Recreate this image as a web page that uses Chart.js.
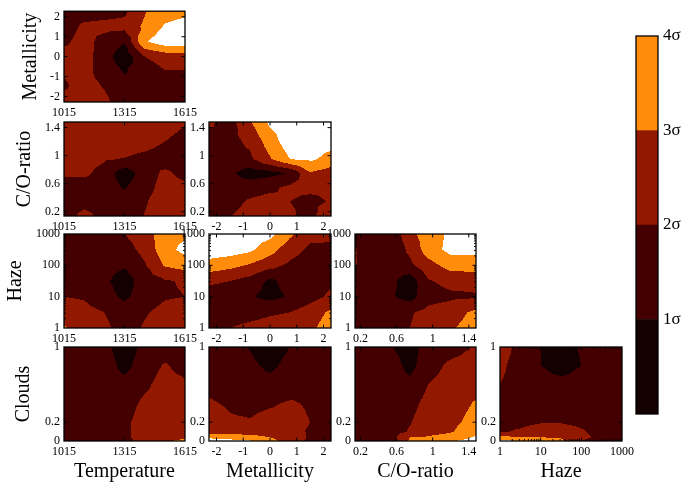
<!DOCTYPE html>
<html><head><meta charset="utf-8">
<script src="https://cdn.jsdelivr.net/npm/chart.js@4.4.1/dist/chart.umd.min.js"></script>
<style>
html,body{margin:0;padding:0;background:#fff;}
#wrap{position:relative;width:692px;height:493px;overflow:hidden;background:#fff;}
#wrap canvas{position:absolute;left:0;top:0;}
</style></head><body><div id="wrap"></div>
<script>
// ---------------- DATA ----------------
const paramNames = ['Temperature', 'Metallicity', 'C/O-ratio', 'Haze', 'Clouds'];

// grid node positions (ascending) for each parameter
const tempNodes  = [1015, 1115, 1215, 1315, 1415, 1515, 1615];
const metNodes   = [-2.3, -1.5, -0.75, 0, 0.75, 1.5, 2.3];
const coNodes    = [0.12, 0.35, 0.55, 0.75, 0.95, 1.2, 1.48];
const hazeNodes  = [1, 3.16, 10, 31.6, 100, 316, 1000];
const cloudNodes = [0, 0.04, 0.1, 0.2, 0.4, 0.6, 0.8, 1];

// tick values and labels
const tempTicks = [1015, 1315, 1615];       const tempTickLabels = ['1015', '1315', '1615'];
const metTicks = [-2, -1, 0, 1, 2];         const metTickLabels = ['-2', '-1', '0', '1', '2'];
const coTicks = [0.2, 0.6, 1, 1.4];         const coTickLabels = ['0.2', '0.6', '1', '1.4'];
const hazeTicks = [1, 10, 100, 1000];       const hazeTickLabels = ['1', '10', '100', '1000'];
const cloudTicks = [0, 0.2, 1];             const cloudTickLabels = ['0', '0.2', '1'];

// colour bar levels
const sigmaLevels = [0, 1, 2, 3, 4];
const sigmaLabels = ['', '1σ', '2σ', '3σ', '4σ'];

// significance (sigma) grids; rows go from the top of the panel (max y) to the bottom
const sigTempMet = [
  [1.5, 1.5, 1.6, 1.8, 2.9, 3.6, 3.7],
  [1.5, 2.2, 2.3, 2.3, 3.2, 4.1, 4.4],
  [1.8, 2.4, 1.6, 1.05, 3.9, 4.6, 4.6],
  [2.4, 2.4, 1.5, 0.3, 2.0, 2.4, 2.5],
  [2.05, 2.3, 1.6, 0.9, 1.5, 1.95, 1.95],
  [1.9, 2.3, 1.95, 1.5, 1.5, 1.6, 1.7],
  [2.3, 2.3, 2.2, 1.5, 1.5, 1.6, 1.7]
];
const sigTempCO = [
  [2.5, 2.5, 2.5, 2.5, 2.5, 2.5, 2.1],
  [2.5, 2.5, 2.5, 2.5, 2.4, 2.0, 1.6],
  [2.5, 2.5, 2.1, 1.95, 1.7, 1.5, 1.5],
  [2.2, 2.2, 1.6, 0.4, 1.5, 2.2, 1.7],
  [1.5, 1.5, 1.5, 0.9, 1.6, 2.4, 2.2],
  [1.5, 1.7, 1.5, 1.5, 1.9, 2.5, 2.5],
  [1.6, 2.3, 1.8, 1.5, 2.05, 2.5, 2.5]
];
const sigMetCO = [
  [2.2, 1.6, 2.9, 4.2, 4.6, 4.6, 4.3],
  [1.6, 1.7, 2.2, 3.5, 4.6, 4.6, 4.4],
  [1.5, 1.6, 1.8, 2.9, 4.0, 4.2, 3.6],
  [1.5, 1.2, 0.5, 0.7, 1.05, 2.9, 2.5],
  [1.4, 1.5, 1.6, 1.8, 2.2, 2.3, 2.2],
  [1.5, 1.7, 2.1, 2.3, 2.0, 1.7, 2.1],
  [1.6, 2.0, 2.3, 2.4, 2.2, 1.7, 3.0]
];
const sigTempHaze = [
  [1.5, 1.5, 1.6, 2.0, 2.5, 3.6, 3.8],
  [1.5, 1.5, 1.5, 1.6, 2.3, 3.6, 4.3],
  [1.5, 1.4, 1.3, 1.1, 1.9, 3.1, 3.4],
  [1.5, 1.4, 1.2, 0.5, 1.5, 1.9, 2.1],
  [2.0, 1.9, 1.4, 0.8, 1.5, 1.9, 2.0],
  [2.5, 2.3, 2.0, 1.5, 1.9, 2.3, 2.5],
  [3.1, 2.5, 2.2, 1.6, 2.1, 2.5, 2.6]
];
const sigMetHaze = [
  [4.6, 4.6, 4.5, 4.3, 3.2, 2.3, 2.2],
  [4.6, 4.5, 4.2, 3.4, 2.4, 1.8, 1.8],
  [3.6, 3.3, 2.9, 2.3, 1.8, 1.5, 1.7],
  [2.2, 2.0, 1.6, 0.8, 1.4, 1.6, 1.8],
  [1.5, 1.4, 1.1, 0.7, 1.1, 1.6, 2.2],
  [1.6, 1.6, 1.7, 1.9, 2.0, 2.5, 3.2],
  [1.7, 2.0, 2.2, 2.3, 2.4, 2.8, 3.5]
];
const sigCOHaze = [
  [1.5, 1.5, 1.3, 2.7, 3.5, 4.2, 4.1],
  [2.1, 1.5, 1.4, 2.2, 3.5, 4.3, 4.3],
  [2.1, 1.5, 1.4, 1.8, 2.6, 3.4, 3.5],
  [1.6, 1.5, 1.2, 0.4, 1.9, 2.3, 2.3],
  [1.5, 1.4, 1.1, 0.6, 1.6, 1.8, 1.9],
  [1.5, 1.5, 1.6, 1.9, 2.3, 2.6, 3.2],
  [1.5, 1.5, 1.7, 2.0, 2.5, 2.9, 3.4]
];
const sigTempClouds = [
  [1.5, 1.5, 1.25, 0.5, 1.25, 1.5, 1.5],
  [1.5, 1.5, 1.5, 0.7, 1.5, 2.1, 1.6],
  [1.5, 1.5, 1.5, 1.3, 1.8, 2.4, 2.2],
  [1.5, 1.5, 1.5, 1.6, 2.2, 2.5, 2.4],
  [1.5, 1.5, 1.5, 1.8, 2.4, 2.5, 2.5],
  [1.5, 1.5, 1.5, 1.8, 2.4, 2.5, 2.5],
  [1.5, 1.5, 1.5, 1.8, 2.4, 2.6, 2.9],
  [1.5, 1.5, 1.5, 1.7, 2.4, 2.9, 3.2]
];
const sigMetClouds = [
  [1.5, 1.4, 0.95, 0.5, 1.0, 1.5, 1.6],
  [1.6, 1.5, 1.2, 0.8, 1.3, 1.5, 1.6],
  [1.8, 1.6, 1.5, 1.3, 1.5, 1.7, 1.5],
  [2.1, 1.9, 1.8, 1.9, 2.1, 1.9, 1.5],
  [2.4, 2.1, 2.05, 2.3, 2.3, 2.0, 1.5],
  [2.6, 2.5, 2.5, 2.4, 2.3, 1.9, 1.5],
  [3.8, 3.6, 3.4, 3.0, 2.4, 1.9, 1.5],
  [4.5, 4.3, 4.1, 3.4, 2.5, 1.8, 1.5]
];
const sigCOClouds = [
  [1.5, 1.5, 1.05, 0.5, 1.5, 1.6, 2.1],
  [1.5, 1.5, 1.4, 0.7, 1.6, 2.2, 2.4],
  [1.5, 1.5, 1.5, 1.25, 2.0, 2.4, 2.5],
  [1.5, 1.5, 1.5, 1.7, 2.3, 2.5, 3.1],
  [1.5, 1.5, 1.5, 1.95, 2.5, 2.7, 3.4],
  [1.5, 1.5, 1.6, 2.1, 2.6, 2.9, 3.8],
  [1.5, 1.5, 1.7, 3.0, 3.1, 3.4, 4.1],
  [1.5, 1.5, 1.7, 3.2, 3.4, 3.9, 4.4]
];
const sigHazeClouds = [
  [2.4, 1.75, 1.0, 0.5, 1.1, 1.5, 1.5],
  [2.2, 1.6, 1.0, 0.6, 1.0, 1.5, 1.5],
  [2.0, 1.6, 1.4, 1.3, 1.4, 1.5, 1.5],
  [1.8, 1.6, 1.6, 1.6, 1.6, 1.5, 1.5],
  [1.8, 1.8, 1.95, 1.95, 1.8, 1.6, 1.5],
  [1.9, 2.1, 2.4, 2.4, 2.1, 1.7, 1.5],
  [3.2, 3.1, 3.0, 2.9, 2.2, 1.8, 1.6],
  [4.3, 4.0, 3.5, 3.2, 2.0, 1.6, 1.6]
];

// ---------------- STYLE / LAYOUT ----------------
const FONT = 'Liberation Serif';
const LEVEL_COLORS = ['#140000', '#440000', '#921800', '#ff8c0a', '#ffffff'];
const W = 692, H = 493;
const COLS = [{l: 64, r: 185}, {l: 209, r: 331}, {l: 355, r: 476}, {l: 500, r: 622}];
const ROWS = [{t: 9, b: 102}, {t: 122, b: 216}, {t: 234, b: 328}, {t: 347, b: 441}];
const Y_TITLE_X = [31, 25, 16, 24];

const AXES = {
  temp:   {name: paramNames[0], type: 'linear', min: 1015, max: 1615, nodes: tempNodes, ticks: tempTicks, labels: tempTickLabels},
  met:    {name: paramNames[1], type: 'linear', min: -2.28, max: 2.28, nodes: metNodes, ticks: metTicks, labels: metTickLabels},
  co:     {name: paramNames[2], type: 'linear', min: 0.14, max: 1.48, nodes: coNodes, ticks: coTicks, labels: coTickLabels},
  haze:   {name: paramNames[3], type: 'logarithmic', min: 1, max: 1000, nodes: hazeNodes, ticks: hazeTicks, labels: hazeTickLabels},
  clouds: {name: paramNames[4], type: 'linear', min: 0, max: 1, nodes: cloudNodes, ticks: cloudTicks, labels: cloudTickLabels}
};

const PANELS = [
  {x: 'temp', y: 'met', row: 0, col: 0, grid: sigTempMet},
  {x: 'temp', y: 'co', row: 1, col: 0, grid: sigTempCO},
  {x: 'met', y: 'co', row: 1, col: 1, grid: sigMetCO},
  {x: 'temp', y: 'haze', row: 2, col: 0, grid: sigTempHaze},
  {x: 'met', y: 'haze', row: 2, col: 1, grid: sigMetHaze},
  {x: 'co', y: 'haze', row: 2, col: 2, grid: sigCOHaze},
  {x: 'temp', y: 'clouds', row: 3, col: 0, grid: sigTempClouds},
  {x: 'met', y: 'clouds', row: 3, col: 1, grid: sigMetClouds},
  {x: 'co', y: 'clouds', row: 3, col: 2, grid: sigCOClouds},
  {x: 'haze', y: 'clouds', row: 3, col: 3, grid: sigHazeClouds}
];

// ---------------- HELPERS ----------------
function hexToRgb(h) { return [parseInt(h.slice(1,3),16), parseInt(h.slice(3,5),16), parseInt(h.slice(5,7),16)]; }
const LEVEL_RGB = LEVEL_COLORS.map(hexToRgb);

function locate(nodes, v) {
  const n = nodes.length;
  if (v <= nodes[0]) return [0, 0];
  if (v >= nodes[n-1]) return [n-2, 1];
  let i = 0;
  while (i < n - 2 && v > nodes[i+1]) i++;
  return [i, (v - nodes[i]) / (nodes[i+1] - nodes[i])];
}
function interp(g00, g10, g01, g11, u, v) {
  const c = (g00 + g10 + g01 + g11) / 4;
  if (v <= u && u + v <= 1) return (1-u-v)*g00 + (u-v)*g10 + 2*v*c;
  if (v <= u) return (u-v)*g10 + (u+v-1)*g11 + 2*(1-u)*c;
  if (u + v >= 1) return (u+v-1)*g11 + (v-u)*g01 + 2*(1-v)*c;
  return (v-u)*g01 + (1-u-v)*g00 + 2*u*c;
}
function levelIndex(s) { return s < 1 ? 0 : s < 2 ? 1 : s < 3 ? 2 : s < 4 ? 3 : 4; }

function labelFor(ax) {
  return function(value) {
    for (let i = 0; i < ax.ticks.length; i++) {
      if (Math.abs(ax.ticks[i] - value) < 1e-6 * Math.max(1, Math.abs(value))) return ax.labels[i];
    }
    return '';
  };
}

function minorValues(ax) {
  if (ax.type !== 'logarithmic') return [];
  const out = [];
  for (let k = 0; k < 3; k++) for (let m = 2; m <= 9; m++) out.push(m * Math.pow(10, k));
  return out;
}

function contourPlugin(panel, xa, ya) {
  return {
    id: 'contourFill',
    beforeDatasetsDraw(chart) {
      const xs = chart.scales.x, ys = chart.scales.y, a = chart.chartArea, ctx = chart.ctx;
      const dpr = chart.currentDevicePixelRatio || 1;
      const X0 = Math.round(a.left * dpr), Y0 = Math.round(a.top * dpr);
      const w = Math.round(a.right * dpr) - X0, h = Math.round(a.bottom * dpr) - Y0;
      const fx = xa.type === 'logarithmic' ? Math.log10 : (v) => v;
      const fy = ya.type === 'logarithmic' ? Math.log10 : (v) => v;
      const xn = xa.nodes.map(fx), yn = ya.nodes.map(fy);
      const G = panel.grid.slice().reverse(); // bottom-to-top rows, matching ascending y nodes
      const cx = [], cy = [];
      for (let i = 0; i < w; i++) cx.push(locate(xn, fx(xs.getValueForPixel((X0 + i + 0.5) / dpr))));
      for (let j = 0; j < h; j++) cy.push(locate(yn, fy(ys.getValueForPixel((Y0 + j + 0.5) / dpr))));
      const img = ctx.createImageData(w, h);
      const d = img.data;
      for (let j = 0; j < h; j++) {
        const [jy, v] = cy[j];
        const r0 = G[jy], r1 = G[jy + 1];
        for (let i = 0; i < w; i++) {
          const [ix, u] = cx[i];
          const s = interp(r0[ix], r0[ix+1], r1[ix], r1[ix+1], u, v);
          const c = LEVEL_RGB[levelIndex(s)];
          const k = (j * w + i) * 4;
          d[k] = c[0]; d[k+1] = c[1]; d[k+2] = c[2]; d[k+3] = 255;
        }
      }
      ctx.putImageData(img, X0, Y0);
    },
    afterDraw(chart) {
      const xs = chart.scales.x, ys = chart.scales.y, a = chart.chartArea, ctx = chart.ctx;
      ctx.save();
      ctx.strokeStyle = '#000';
      ctx.lineWidth = 1;
      ctx.beginPath();
      const tick = (vals, len, isX) => {
        vals.forEach((val) => {
          if (isX) {
            const p = xs.getPixelForValue(val);
            if (p < a.left + 1 || p > a.right - 1) return;
            ctx.moveTo(p, a.bottom); ctx.lineTo(p, a.bottom - len);
            ctx.moveTo(p, a.top); ctx.lineTo(p, a.top + len);
          } else {
            const p = ys.getPixelForValue(val);
            if (p < a.top + 1 || p > a.bottom - 1) return;
            ctx.moveTo(a.left, p); ctx.lineTo(a.left + len, p);
            ctx.moveTo(a.right, p); ctx.lineTo(a.right - len, p);
          }
        });
      };
      tick(xa.ticks, 3.5, true); tick(minorValues(xa), 2, true);
      tick(ya.ticks, 3.5, false); tick(minorValues(ya), 2, false);
      ctx.stroke();
      ctx.lineWidth = 1.3;
      ctx.strokeRect(a.left, a.top, a.right - a.left, a.bottom - a.top);
      ctx.restore();
    }
  };
}

function scaleConfig(ax, isX, title, size) {
  return {
    type: ax.type,
    position: isX ? 'bottom' : 'left',
    min: ax.min, max: ax.max,
    grid: {display: false, drawTicks: false},
    border: {display: false},
    afterBuildTicks: (s) => { s.ticks = ax.ticks.map((v) => ({value: v})); },
    afterFit: (s) => { if (isX) s.height = size; else s.width = size; },
    ticks: {
      autoSkip: false, maxRotation: 0, minRotation: 0,
      padding: 4,
      color: '#000',
      font: {family: FONT, size: 12},
      callback: labelFor(ax)
    },
    title: {display: !!title, text: title || '', color: '#000', padding: 0, font: {family: FONT, size: 20}}
  };
}

function newCanvas() {
  const c = document.createElement('canvas');
  c.width = W; c.height = H;
  c.style.width = W + 'px'; c.style.height = H + 'px';
  document.getElementById('wrap').appendChild(c);
  return c;
}

// ---------------- PANELS ----------------
PANELS.forEach((p) => {
  const xa = AXES[p.x], ya = AXES[p.y];
  const col = COLS[p.col], row = ROWS[p.row];
  const lastRow = p.row === 3;
  const xH = lastRow ? 43 : 20;
  const yLeft = p.col === 0 ? Y_TITLE_X[p.row] - 12 : col.l - 40;
  const yW = col.l - yLeft;
  new Chart(newCanvas(), {
    type: 'scatter',
    data: {datasets: [{data: [], pointRadius: 0}]},
    options: {
      responsive: false, animation: false, events: [],
      layout: {padding: {left: yLeft, top: row.t, right: W - col.r, bottom: H - row.b - xH}},
      plugins: {legend: {display: false}, tooltip: {enabled: false}},
      scales: {
        x: scaleConfig(xa, true, lastRow ? xa.name : '', xH),
        y: scaleConfig(ya, false, p.col === 0 ? ya.name : '', yW)
      }
    },
    plugins: [contourPlugin(p, xa, ya)]
  });
});

// ---------------- COLOUR BAR ----------------
new Chart(newCanvas(), {
  type: 'bar',
  data: {
    labels: [''],
    datasets: sigmaLevels.slice(1).map((lv, i) => ({
      data: [lv - sigmaLevels[i]],
      backgroundColor: LEVEL_COLORS[i],
      borderWidth: 0, barPercentage: 1, categoryPercentage: 1
    }))
  },
  options: {
    responsive: false, animation: false, events: [],
    layout: {padding: {left: 636, top: 36, right: 0, bottom: H - 414}},
    plugins: {legend: {display: false}, tooltip: {enabled: false}},
    scales: {
      x: {display: false, stacked: true},
      y: {
        stacked: true, position: 'right', min: 0, max: 4,
        grid: {display: false, drawTicks: false}, border: {display: false},
        afterBuildTicks: (s) => { s.ticks = sigmaLevels.map((v) => ({value: v})); },
        afterFit: (s) => { s.width = 34; },
        ticks: {padding: 5, color: '#000', font: {family: FONT, size: 17},
          callback: (v) => sigmaLabels[sigmaLevels.indexOf(v)] || ''}
      }
    }
  },
  plugins: [{
    id: 'cbFrame',
    afterDraw(chart) {
      const a = chart.chartArea, ctx = chart.ctx;
      ctx.save(); ctx.strokeStyle = '#000'; ctx.lineWidth = 1.3;
      ctx.strokeRect(a.left, a.top, a.right - a.left, a.bottom - a.top);
      ctx.restore();
    }
  }]
});
</script></body></html>
